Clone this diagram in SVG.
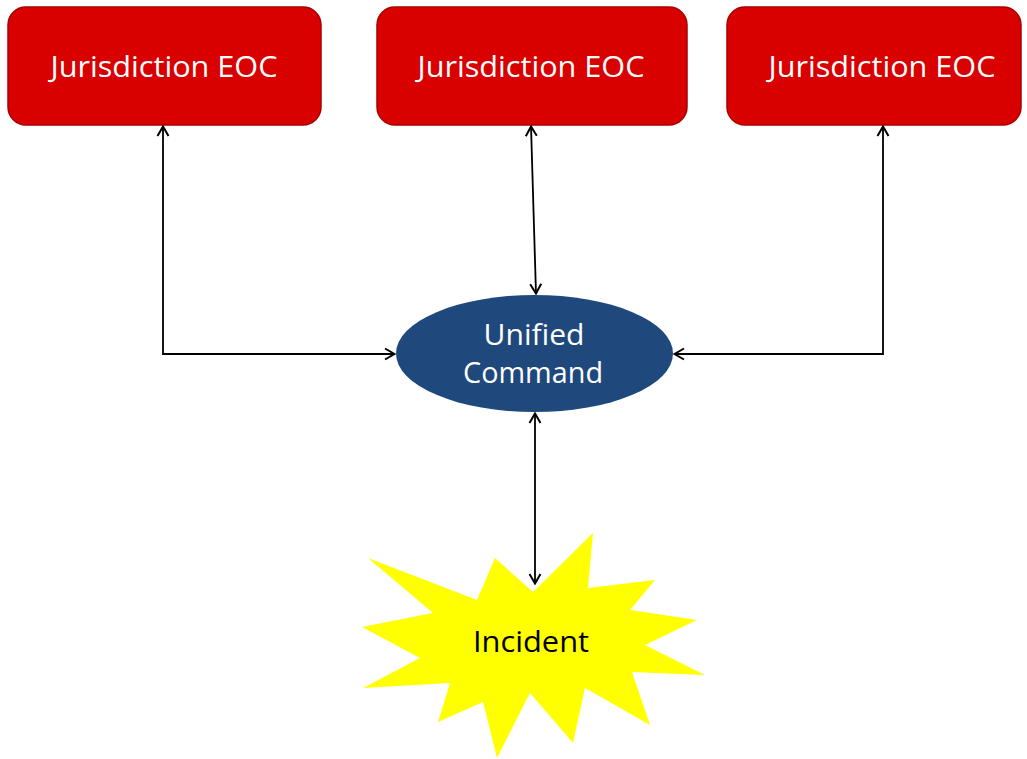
<svg xmlns="http://www.w3.org/2000/svg" width="1027" height="759" viewBox="0 0 1027 759">
  <style>
    .eoc { fill: #d90000; stroke: #a80000; stroke-width: 1.5; }
    .eoc-label { fill: #ffffff; font-family: "Open Sans", "DejaVu Sans", sans-serif; font-size: 30px; text-anchor: middle; }
    .uc { fill: #1f497d; }
    .uc-label { fill: #ffffff; font-family: "Open Sans", "DejaVu Sans", sans-serif; font-size: 29px; text-anchor: middle; }
    .incident { fill: #ffff00; }
    .incident-label { fill: #000000; font-family: "Open Sans", "DejaVu Sans", sans-serif; font-size: 30px; text-anchor: middle; }
    .link { fill: none; stroke: #000000; stroke-width: 1.8; marker-start: url(#arrow); marker-end: url(#arrow); }
  </style>
  <defs>
    <marker id="arrow" viewBox="0 0 14 14" refX="13" refY="7" markerWidth="14" markerHeight="14" markerUnits="userSpaceOnUse" orient="auto-start-reverse">
      <path d="M3,1.5 L12.5,7 L3,12.5" fill="none" stroke="#000000" stroke-width="2"/>
    </marker>
  </defs>

  <rect width="1027" height="759" fill="#ffffff"/>

  <!-- jurisdiction emergency operations centres -->
  <g id="eoc-left">
    <rect class="eoc" x="8" y="7" width="313" height="118" rx="18" ry="18"/>
    <text class="eoc-label" x="164" y="77" textLength="227" lengthAdjust="spacingAndGlyphs">Jurisdiction EOC</text>
  </g>
  <g id="eoc-center">
    <rect class="eoc" x="377" y="7" width="310" height="118" rx="18" ry="18"/>
    <text class="eoc-label" x="531" y="77" textLength="227" lengthAdjust="spacingAndGlyphs">Jurisdiction EOC</text>
  </g>
  <g id="eoc-right">
    <rect class="eoc" x="727" y="7" width="294" height="118" rx="18" ry="18"/>
    <text class="eoc-label" x="882" y="77" textLength="227" lengthAdjust="spacingAndGlyphs">Jurisdiction EOC</text>
  </g>

  <!-- unified command -->
  <g id="unified-command">
    <ellipse class="uc" cx="534.5" cy="353.5" rx="138.5" ry="58.5"/>
    <text class="uc-label" x="534" y="345" textLength="101" lengthAdjust="spacingAndGlyphs">Unified</text>
    <text class="uc-label" x="533" y="383" textLength="140" lengthAdjust="spacingAndGlyphs">Command</text>
  </g>

  <!-- incident burst -->
  <g id="incident">
    <polygon class="incident" points="533,592 593,533 588,588 655,580 630,610 697,620 645,645 705,675 632,672 650,725 585,688 573,743 530,693 497,758 483,702 438,722 450,683 363,688 420,658 362,627 433,613 368,558 477,600 495,558"/>
    <text class="incident-label" x="531" y="652" textLength="116" lengthAdjust="spacingAndGlyphs">Incident</text>
  </g>

  <!-- connectors -->
  <g id="connectors">
    <path class="link" d="M163,126 L163,354 L395,354"/>
    <path class="link" d="M883,126 L883,354 L674,354"/>
    <path class="link" d="M531,126 L536,294"/>
    <path class="link" d="M535,413 L535,584"/>
  </g>
</svg>
